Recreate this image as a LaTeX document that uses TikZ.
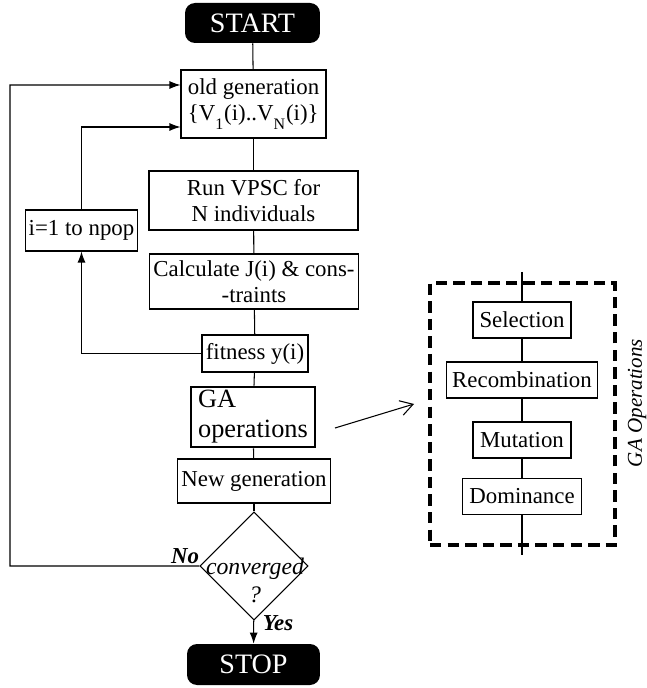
\documentclass[tikz,border=0pt]{standalone}
\usepackage{fontspec}
\setmainfont{Liberation Serif}
\usetikzlibrary{positioning,arrows.meta,shapes.geometric}

\begin{document}
\begin{tikzpicture}[x=0.02cm, y=-0.02cm,
        every node/.style={font=\rmfamily\fontsize{13}{15}\selectfont},
        box/.style={draw, line width=0.6pt, inner sep=2pt, align=center},
        term/.style={fill=black, text=white, rounded corners=0.2cm, font=\rmfamily\fontsize{16}{18}\selectfont},
        decision/.style={draw, diamond, aspect=1, line width=0.6pt, inner sep=0pt, minimum size=2.16cm},
        link/.style={line width=0.6pt},
        flow/.style={line width=0.6pt, -{Latex[length=2.2mm, width=1.6mm]}},
        opsbox/.style={draw, line width=0.6pt, inner sep=2pt, minimum height=0.72cm}
    ]
        \useasboundingbox (0,0) rectangle (646,688);

        \node[term, minimum width=2.7cm, minimum height=0.8cm] (start) at (252.5,23) {START};
        \node[box, align=left, minimum width=2.9cm, minimum height=1.36cm] (oldgen) at (253.5,104)
            {old generation\\\{V\textsubscript{\raisebox{-0.8ex}{1}}(i)..V\textsubscript{\raisebox{-0.8ex}{N}}(i)\}};
        \node[box, minimum width=4.18cm, minimum height=1.18cm] (runvpsc) at (253.5,200.5) {Run VPSC for\\N individuals};
        \node[box, minimum width=2.18cm, minimum height=0.82cm] (npop) at (81.5,230.5) {i=1 to npop};
        \node[box, minimum width=4.04cm, minimum height=1.1cm] (calc) at (254,281.5) {Calculate J(i) \& cons-\\-traints};
        \node[box, minimum width=2.12cm, minimum height=0.74cm] (fitness) at (255,353.5) {fitness y(i)};
        \node[box, line width=1.6pt, align=left, minimum width=2.48cm, minimum height=1.2cm,
            font=\rmfamily\fontsize{15}{17}\selectfont] (gaop) at (253,417) {GA\\operations};
        \node[box, minimum width=2.88cm, minimum height=0.88cm] (newgen) at (254,481) {New generation};
        \node[decision] (conv) at (254,566) {};
        \node[align=center, font=\rmfamily\fontsize{13.5}{14}\itshape] (convtxt) at (255,580) {converged\\[2pt]?};
        \node[term, minimum width=2.66cm, minimum height=0.82cm] (stop) at (253.5,664.5) {STOP};

        \node[font=\rmfamily\fontsize{13}{15}\bfseries\itshape] (no) at (185,556) {No};
        \node[font=\rmfamily\fontsize{13}{15}\bfseries\itshape] (yes) at (278,623) {Yes};

        \draw[link] (start) -- (oldgen);
        \draw[link] (oldgen) -- (runvpsc);
        \draw[link] (runvpsc) -- (calc);
        \draw[link] (calc) -- (fitness);
        \draw[link] (fitness) -- (gaop);
        \draw[link] (gaop) -- (newgen);
        \draw[link] (newgen) -- (conv);
        \draw[flow] (conv) -- (stop);

        \coordinate (loopA) at (10,566);
        \coordinate (loopB) at (10,85);
        \draw[flow] (conv.west) -- (loopA) -- (loopB) -- ([yshift=0.38cm]oldgen.west);
        \draw[flow] (fitness.west) -| (npop.south);
        \draw[flow] (npop.north) |- ([yshift=-0.46cm]oldgen.west);

        \node[draw, line width=2.4pt, dash pattern=on 6.5pt off 3.5pt, minimum width=3.7cm, minimum height=5.24cm]
            (opsframe) at (522.5,414) {};
        \node[rotate=90, font=\rmfamily\fontsize{12}{14}\itshape] (opslabel) at (637,403) {GA Operations};
        \coordinate (optop) at (522,272);
        \coordinate (opbot) at (522,555);
        \node[opsbox, minimum width=1.96cm] (sel) at (522,320) {Selection};
        \node[opsbox, minimum width=3.02cm] (rec) at (522,380) {Recombination};
        \node[opsbox, minimum width=1.96cm] (mut) at (522,440) {Mutation};
        \node[opsbox, minimum width=2.38cm] (dom) at (522,496.5) {Dominance};
        \draw[link] (optop) -- (sel) -- (rec) -- (mut) -- (dom) -- (opbot);

        \coordinate (gaA) at (335,428);
        \coordinate (gaB) at (414,404);
        \draw[line width=0.6pt, -{Straight Barb[length=2.5mm, width=3mm]}] (gaA) -- (gaB);
    \end{tikzpicture}
\end{document}
